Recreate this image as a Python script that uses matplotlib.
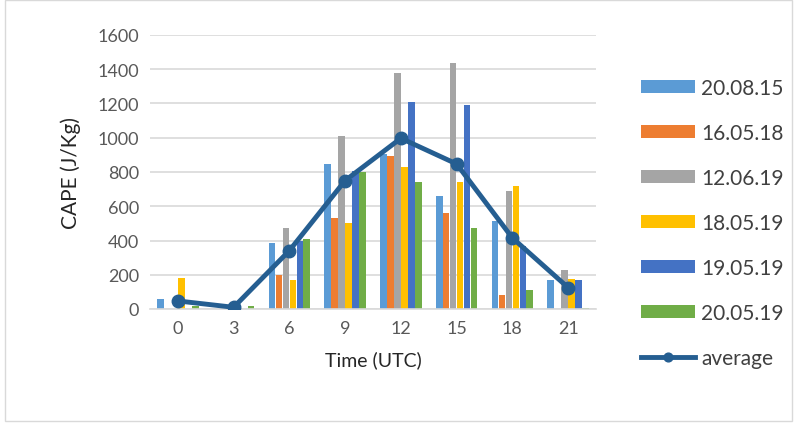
import numpy as np
import matplotlib.pyplot as plt
from matplotlib.patches import Rectangle

hours = ["0", "3", "6", "9", "12", "15", "18", "21"]
dates = ["20.08.15", "16.05.18", "12.06.19", "18.05.19", "19.05.19", "20.05.19"]
colors = ["#5b9bd5", "#ed7d31", "#a5a5a5", "#ffc000", "#4472c4", "#70ad47"]

cape_200815 = [58, 0, 383, 847, 905, 660, 512, 167]
cape_160518 = [0, 0, 200, 530, 895, 563, 82, 0]
cape_120619 = [0, 0, 473, 1008, 1376, 1435, 689, 226]
cape_180519 = [183, 5, 167, 502, 831, 744, 718, 175]
cape_190519 = [0, 0, 400, 808, 1209, 1193, 370, 167]
cape_200519 = [20, 20, 409, 802, 744, 473, 113, 3]
average = [47, 10, 341, 750, 997, 847, 415, 125]

series = [cape_200815, cape_160518, cape_120619, cape_180519, cape_190519, cape_200519]

plt.rcParams['font.family'] = ['Lato', 'DejaVu Sans']

fig = plt.figure(figsize=(7.97, 4.27), dpi=100)
ax = fig.add_axes([150 / 797, 117 / 427, 446 / 797, 274 / 427])

x = np.arange(len(hours))
bw = 0.125
handles = []
for i, (vals, name, c) in enumerate(zip(series, dates, colors)):
    b = ax.bar(x + (i - 2.5) * bw, vals, width=bw * 0.95, color=c, label=name, zorder=2)
    handles.append(b)

ln, = ax.plot(x, average, color="#255e91", lw=3.5, marker="o", ms=9, label="average", zorder=3)
handles.append(ln)

ax.set_xlim(-0.5, len(hours) - 0.5)
ax.set_ylim(0, 1600)
ax.set_yticks(range(0, 1601, 200))
ax.set_xticks(x)
ax.set_xticklabels(hours)
ax.grid(axis="y", color="#d9d9d9", lw=1.2, zorder=0)
ax.set_axisbelow(True)
for s in ["top", "right", "left"]:
    ax.spines[s].set_visible(False)
ax.spines["bottom"].set_color("#d9d9d9")
ax.spines["bottom"].set_linewidth(1.2)
ax.tick_params(length=0, labelsize=13, colors="#595959", pad=8)
ax.set_xlabel("Time (UTC)", fontsize=14, color="#262626", labelpad=10)
ax.set_ylabel("CAPE (J/Kg)", fontsize=15, color="#262626", labelpad=12)

leg = fig.legend(handles, dates + ["average"], loc="upper left",
                 bbox_to_anchor=(622 / 797, 1 - 60 / 427), frameon=False,
                 fontsize=15, labelspacing=1.2, handlelength=2.6, handleheight=0.6,
                 handletextpad=0.3, markerscale=0.7)
for t in leg.get_texts():
    t.set_color("#404040")

fig.patches.append(Rectangle((0.006, 0.012), 0.988, 0.985, transform=fig.transFigure,
                             fill=False, edgecolor="#d9d9d9", lw=1))

fig.savefig("out.png", dpi=100)
